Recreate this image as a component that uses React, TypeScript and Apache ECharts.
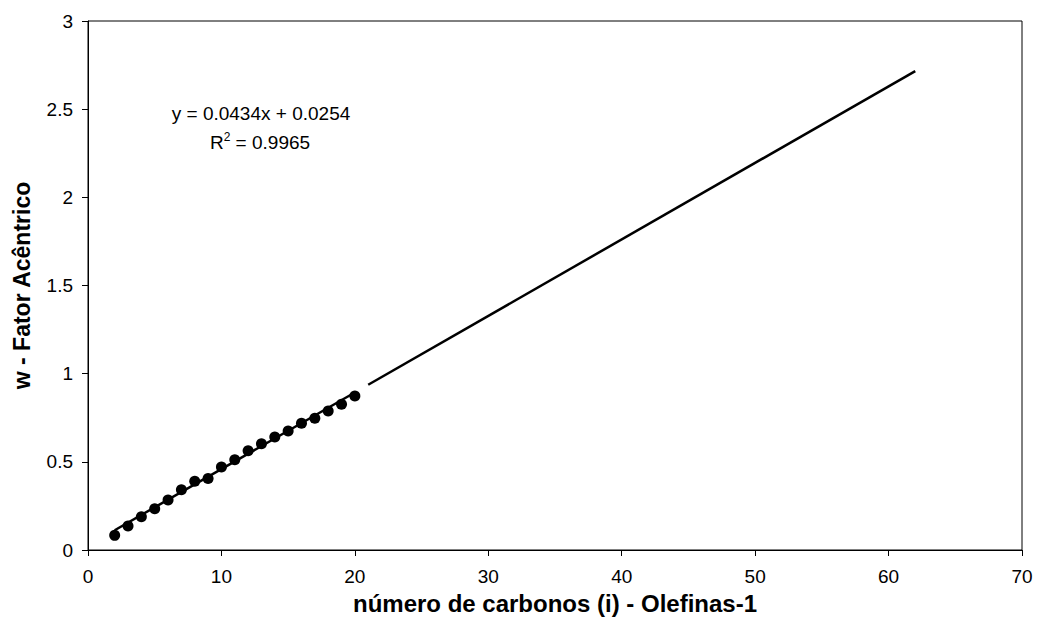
import React, { useEffect, useRef } from "react";
import * as echarts from "echarts";

const carbonNumbers = [2, 3, 4, 5, 6, 7, 8, 9, 10, 11, 12, 13, 14, 15, 16, 17, 18, 19, 20];
const acentricFactor = [0.083, 0.136, 0.189, 0.234, 0.284, 0.342, 0.39, 0.405, 0.471, 0.512, 0.563, 0.603, 0.641, 0.675, 0.719, 0.747, 0.788, 0.826, 0.873];
const trendX = [2, 20];
const trendY = [0.112, 0.893];
const extrapX = [21, 62];
const extrapY = [0.937, 2.716];
const xTicks = [0, 10, 20, 30, 40, 50, 60, 70];
const yTicks = [0, 0.5, 1, 1.5, 2, 2.5, 3];
const equationText = "y = 0.0434x + 0.0254";
const r2Text = "R{sup|2} = 0.9965";

const FONT = "'Liberation Sans', Arial, sans-serif";

export default function App() {
  const ref = useRef<HTMLDivElement>(null);
  useEffect(() => {
    if (!ref.current) return;
    const chart = echarts.init(ref.current, undefined, { renderer: "svg" });
    chart.setOption({
      animation: false,
      backgroundColor: "#ffffff",
      grid: { left: 88, top: 21, right: 15, bottom: 80, show: true, borderColor: "#000", borderWidth: 1 },
      xAxis: {
        type: "value",
        min: xTicks[0],
        max: xTicks[xTicks.length - 1],
        interval: 10,
        name: "número de carbonos (i) - Olefinas-1",
        nameLocation: "middle",
        nameGap: 41,
        nameTextStyle: { fontFamily: FONT, fontSize: 24, fontWeight: "bold", color: "#000" },
        axisLine: { lineStyle: { color: "#000", width: 1 } },
        axisTick: { show: true, length: 6, lineStyle: { color: "#000" } },
        axisLabel: { fontFamily: FONT, fontSize: 19, color: "#000", margin: 17 },
        splitLine: { show: false },
      },
      yAxis: {
        type: "value",
        min: yTicks[0],
        max: yTicks[yTicks.length - 1],
        interval: 0.5,
        name: "w - Fator Acêntrico",
        nameLocation: "middle",
        nameGap: 55,
        nameTextStyle: { fontFamily: FONT, fontSize: 23, fontWeight: "bold", color: "#000" },
        axisLine: { show: true, lineStyle: { color: "#000", width: 1 } },
        axisTick: { show: true, length: 6, lineStyle: { color: "#000" } },
        axisLabel: { fontFamily: FONT, fontSize: 19, color: "#000", margin: 15 },
        splitLine: { show: false },
      },
      series: [
        {
          type: "line",
          data: trendX.map((x, i) => [x, trendY[i]]),
          symbol: "none",
          lineStyle: { color: "#000", width: 2.5 },
          z: 2,
        },
        {
          type: "line",
          data: extrapX.map((x, i) => [x, extrapY[i]]),
          symbol: "none",
          lineStyle: { color: "#000", width: 2.5 },
          z: 2,
        },
        {
          type: "scatter",
          data: carbonNumbers.map((x, i) => [x, acentricFactor[i]]),
          symbol: "circle",
          symbolSize: 11,
          itemStyle: { color: "#000", opacity: 1 },
          z: 3,
        },
      ],
      graphic: [
        {
          type: "text",
          x: 261,
          y: 113,
          style: {
            text: equationText,
            fontFamily: FONT,
            fontSize: 19,
            fill: "#000",
            textAlign: "center",
            textVerticalAlign: "middle",
          },
        },
        {
          type: "text",
          x: 260,
          y: 142,
          style: {
            text: r2Text,
            fontFamily: FONT,
            fontSize: 19,
            fill: "#000",
            textAlign: "center",
            textVerticalAlign: "middle",
            rich: { sup: { fontSize: 12, verticalAlign: "top", padding: [0, 0, 10, 0], fontFamily: FONT, fill: "#000" } },
          },
        },
      ],
    });
    return () => chart.dispose();
  }, []);
  return (
    <div
      ref={ref}
      style={{ position: "fixed", left: 0, top: 0, width: 1037, height: 630, background: "#fff" }}
    />
  );
}
